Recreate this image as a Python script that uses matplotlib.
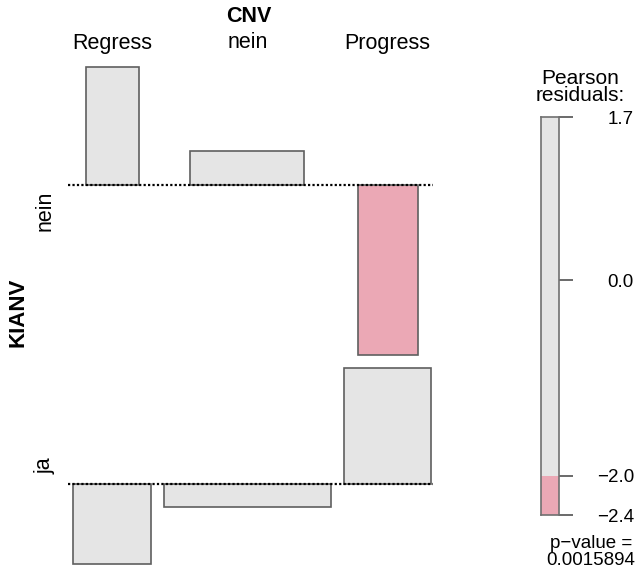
import matplotlib
matplotlib.use('Agg')
import matplotlib.pyplot as plt
import numpy as np

# ---- data ----
col_var = 'CNV'
row_var = 'KIANV'
col_levels = ['Regress', 'nein', 'Progress']
row_levels = ['nein', 'ja']
residuals = [[1.67, 0.48, -2.40],
             [-1.13, -0.33, 1.63]]
bar_widths = [[0.53, 1.14, 0.60],
              [0.777, 1.667, 0.877]]
legend_title = 'Pearson\nresiduals:'
p_value_text = 'p\u2212value =\n0.0015894'
cutoff = -2.0

# ---- style / layout ----
plt.rcParams['font.family'] = ['Liberation Sans', 'DejaVu Sans']
GREY = '#E5E5E5'
PINK = '#EBA8B5'
EDGE = '#5F5F5F'
W, H = 637, 573
PX = 70.83      # pixels per residual unit
XU = 100.0      # pixels per width unit
BASE_PX = 185   # pixel row of first baseline
GAP_Y = 13.3 / PX
GAP_X = 0.13
X0 = 0.733
FS = 15.5

res = np.array(residuals)
bw = np.array(bar_widths)

fig = plt.figure(figsize=(W / 100, H / 100), dpi=100)
ax = fig.add_axes([0, 0, 1, 1])
ax.set_xlim(0, W / XU)
ax.set_ylim(-(H - BASE_PX) / PX, BASE_PX / PX)
ax.axis('off')

slot = bw.max(axis=0)
lefts = X0 + np.concatenate([[0], np.cumsum(slot[:-1] + GAP_X)])
centers = lefts + slot / 2

baselines = [0.0]
for i in range(1, len(row_levels)):
    baselines.append(baselines[-1] + res[i - 1].min() - GAP_Y - res[i].max())

for i, row in enumerate(row_levels):
    colors = [PINK if r < cutoff else GREY for r in res[i]]
    ax.bar(centers, res[i], width=bw[i], bottom=baselines[i], color=colors,
           edgecolor=EDGE, linewidth=1.2, zorder=2)
    ax.plot([0.68, 4.33], [baselines[i], baselines[i]], color='black',
            lw=1.6, ls=(0, (1, 1)), zorder=3)
    ycen = baselines[i] + (res[i].max() + res[i].min()) / 2
    ax.text(45 / XU, ycen, row, rotation=90, ha='center', va='center', fontsize=FS)

top_y = res[0].max()
bot_y = baselines[-1] + res[-1].min()
ax.text(18 / XU, (top_y + bot_y) / 2 + 3 / PX, row_var, rotation=90, ha='center',
        va='center', fontsize=FS + 0.5, fontweight='bold')

for c, lab in zip(centers, col_levels):
    ax.text(c, (BASE_PX - 43) / PX, lab, ha='center', va='center', fontsize=FS)
ax.text(centers.mean(), (BASE_PX - 17) / PX, col_var, ha='center',
        va='center', fontsize=FS, fontweight='bold')

# ---- legend ----
lo, hi = res.min(), res.max()
lax = fig.add_axes([541 / W, 1 - 515 / H, 18 / W, (515 - 117) / H])
lax.set_ylim(lo, hi)
lax.set_xlim(0, 1)
lax.axhspan(cutoff, hi, color=GREY, lw=0)
lax.axhspan(lo, cutoff, color=PINK, lw=0)
for s in lax.spines.values():
    s.set_color('#707070')
    s.set_linewidth(1.2)
lax.set_xticks([])
lax.yaxis.tick_right()
ticks = [hi, 0.0, cutoff, lo]
lax.set_yticks(ticks)
lax.set_yticklabels([f'{t:.1f}'.replace('-', '\u2212') for t in ticks])
lax.tick_params(axis='y', length=10, width=1.2, color='#505050', pad=44,
                labelsize=13.5)
for t in lax.get_yticklabels():
    t.set_horizontalalignment('right')

fig.text(580 / W, 1 - 87 / H, legend_title, ha='center', va='center',
         fontsize=15, linespacing=0.9)
fig.text(591 / W, 1 - 552 / H, p_value_text, ha='center', va='center',
         fontsize=13.5, linespacing=0.95)

fig.savefig('out.png', dpi=100)
